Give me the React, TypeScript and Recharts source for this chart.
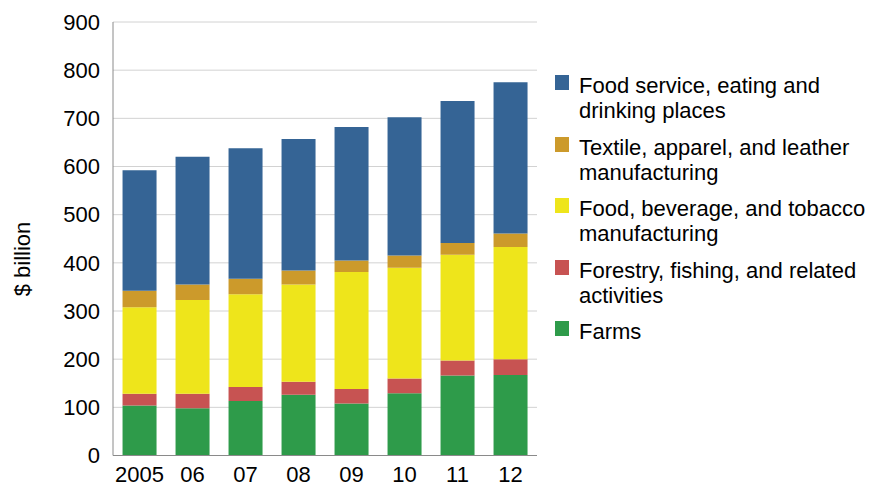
import { Bar, BarChart, CartesianGrid, XAxis, YAxis } from "recharts";

const years = ["2005", "06", "07", "08", "09", "10", "11", "12"];

const farms = [104, 98, 113, 126, 108, 129, 166, 167];
const forestry = [24, 30, 29, 27, 30, 31, 31, 33];
const foodMfg = [180, 195, 193, 202, 243, 230, 220, 233];
const textile = [34, 32, 32, 29, 24, 25, 24, 28];
const foodService = [250, 265, 271, 273, 277, 287, 295, 314];

const yTicks = [0, 100, 200, 300, 400, 500, 600, 700, 800, 900];

// bottom to top stacking order
const series = [
  { key: "farms", color: "#2e9b4a", lines: ["Farms"] },
  { key: "forestry", color: "#c75352", lines: ["Forestry, fishing, and related", "activities"] },
  { key: "foodMfg", color: "#eee51b", lines: ["Food, beverage, and tobacco", "manufacturing"] },
  { key: "textile", color: "#cc9a2b", lines: ["Textile, apparel, and leather", "manufacturing"] },
  { key: "foodService", color: "#356495", lines: ["Food service, eating and", "drinking places"] },
];

const data = years.map((year, i) => ({
  year,
  farms: farms[i],
  forestry: forestry[i],
  foodMfg: foodMfg[i],
  textile: textile[i],
  foodService: foodService[i],
}));

const font = '"Liberation Sans", Arial, Helvetica, sans-serif';
const fs = 22;

function LegendBox() {
  const items = [...series].reverse();
  return (
    <div
      style={{
        position: "absolute",
        left: 555,
        top: 73,
        width: 315,
        fontFamily: font,
        fontSize: fs,
        color: "#000",
      }}
    >
      {items.map((s) => (
        <div key={s.key} style={{ position: "relative", paddingLeft: 24, height: 61.5, lineHeight: "25px" }}>
          <span
            style={{
              position: "absolute",
              left: 0,
              top: 2,
              width: 14,
              height: 15,
              background: s.color,
            }}
          />
          {s.lines.map((l) => (
            <div key={l} style={{ whiteSpace: "nowrap" }}>{l}</div>
          ))}
        </div>
      ))}
    </div>
  );
}

export default function App() {
  return (
    <div style={{ position: "absolute", left: 0, top: 0, width: 870, height: 487, background: "#fff" }}>
      <BarChart
        width={870}
        height={487}
        data={data}
        margin={{ top: 22, right: 333, bottom: 0, left: 0 }}
        barCategoryGap="18%"
      >
        <CartesianGrid vertical={false} stroke="#d2d2d2" />
        <XAxis
          dataKey="year"
          height={31.5}
          tickLine={false}
          tickSize={0}
          tickMargin={11}
          axisLine={{ stroke: "#8a8a8a" }}
          tick={{ fill: "#000", fontSize: fs, fontFamily: font }}
          interval={0}
        />
        <YAxis
          width={113}
          domain={[0, 900]}
          ticks={yTicks}
          tickLine={false}
          tickSize={0}
          tickMargin={13}
          axisLine={{ stroke: "#8a8a8a" }}
          tick={{ fill: "#000", fontSize: fs, fontFamily: font }}
          label={{
            content: () => (
              <text
                x={22}
                y={259}
                transform="rotate(-90 22 259)"
                textAnchor="middle"
                dominantBaseline="central"
                fontSize={fs}
                fontFamily={font}
                fill="#000"
              >
                $ billion
              </text>
            ),
          }}
        />
        {series.map((s) => (
          <Bar
            key={s.key}
            dataKey={s.key}
            stackId="a"
            fill={s.color}
            isAnimationActive={false}
          />
        ))}
      </BarChart>
      <LegendBox />
    </div>
  );
}
